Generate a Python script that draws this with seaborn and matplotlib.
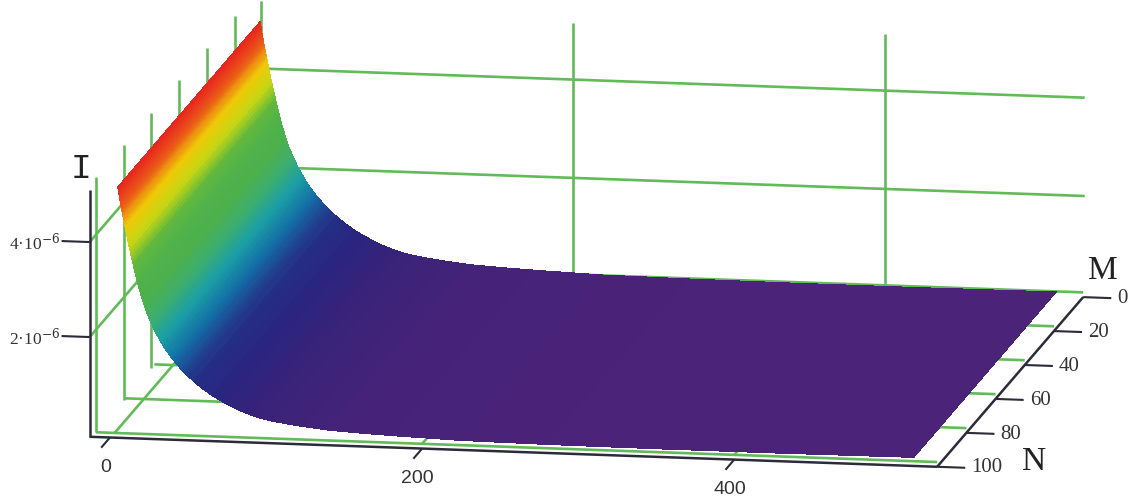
import matplotlib
matplotlib.use('Agg')
import matplotlib.pyplot as plt
import seaborn as sns
import numpy as np
from mpl_toolkits.mplot3d import proj3d

# values (I in units of 1e-6)
n_values = [5, 5.25, 5.5, 5.75, 6, 6.25, 6.5, 6.75, 7, 7.25, 7.5, 7.75, 8, 8.25, 8.5, 8.75,
            9, 9.25, 9.5, 9.75, 10, 10.25, 10.5, 10.75, 11, 11.25, 11.5, 11.75, 12,
            12.5, 13, 13.5, 14, 14.5, 15, 15.5, 16, 16.5, 17, 17.5, 18, 18.5, 19, 19.5, 20,
            20.5, 21, 21.5, 22, 22.5, 23, 23.5, 24, 24.5, 25, 25.5, 26, 26.5, 27, 27.5, 28,
            28.5, 29, 29.5, 30, 30.5, 31, 31.5, 32, 32.5, 33, 33.5, 34, 34.5, 35, 35.5, 36,
            37, 38, 39, 40, 41, 42, 43, 44, 45, 46, 47, 48, 49, 50,
            53, 56, 60, 65, 70, 75, 80, 85, 90, 96, 105, 115, 125,
            139, 160, 181, 224, 280, 350, 430, 515]
i_values = [5.18, 5.13, 5.08, 5.03, 4.98, 4.93, 4.88, 4.83, 4.79, 4.74, 4.70, 4.65, 4.61, 4.57, 4.53, 4.49,
            4.45, 4.41, 4.37, 4.33, 4.29, 4.25, 4.21, 4.17, 4.13, 4.09, 4.05, 4.01, 3.97,
            3.89, 3.82, 3.75, 3.68, 3.61, 3.54, 3.47, 3.40, 3.33, 3.27, 3.20, 3.14, 3.08, 3.02, 2.96, 2.91,
            2.85, 2.80, 2.75, 2.70, 2.65, 2.61, 2.56, 2.52, 2.48, 2.44, 2.40, 2.37, 2.33, 2.30, 2.26, 2.23,
            2.19, 2.16, 2.13, 2.10, 2.07, 2.04, 2.01, 1.99, 1.96, 1.93, 1.90, 1.88, 1.85, 1.83, 1.80, 1.78,
            1.73, 1.69, 1.64, 1.60, 1.56, 1.52, 1.48, 1.45, 1.41, 1.38, 1.34, 1.31, 1.28, 1.25,
            1.16, 1.08, 0.98, 0.87, 0.77, 0.69, 0.61, 0.54, 0.48, 0.42, 0.36, 0.31, 0.27,
            0.22, 0.18, 0.15, 0.10, 0.08, 0.07, 0.07, 0.08]
m_values = [2.5, 100]

n_ticks = [0, 200, 400]
m_ticks = [0, 20, 40, 60, 80, 100]
i_ticks = [2, 4]
i_tick_labels = ['2·10$^{-6}$', '4·10$^{-6}$']
back_levels = [2.03, 4.1]
left_wall_m = [100, 81, 62, 43, 24, 5]

# one colour every 0.4 of I, from 0 to 5.2
surface_colors = ['#4e2379', '#3a2379', '#2a2480', '#252f85', '#136ea6', '#1c9fa5', '#3dae6e',
                  '#4cb04c', '#4fb24a', '#62b83e', '#c8d612', '#f0c808', '#ea5a18', '#e8281e']

N_MIN, N_MAX = -13, 530
M_MIN, M_MAX = 0, 100
I_MIN, I_MAX = -0.1, 5.2
GREEN = '#62ba58'
DARK = '#2b2b3a'

sns.set_theme(style='white')
plt.rcParams['font.family'] = ['Liberation Serif', 'DejaVu Serif']
plt.rcParams['mathtext.fontset'] = 'dejavuserif'

W, H = 1132, 499
fig = plt.figure(figsize=(W / 100, H / 100), dpi=100)
ax = fig.add_axes([-132.5 / W, -461 / H, 1400 / W, 1400 / H], projection='3d')
ax.set_proj_type('ortho')
ax.view_init(elev=11.7, azim=-80.1)
ax.set_box_aspect((860, 849, 257), zoom=0.857)
ax.set_xlim(N_MIN, N_MAX, view_margin=0)
ax.set_ylim(M_MAX, M_MIN, view_margin=0)
ax.set_zlim(I_MIN, I_MAX, view_margin=0)
ax.set_axis_off()
ax.computed_zorder = False
ax.patch.set_alpha(0)


def grid(xs, ys, zs, color=GREEN, lw=1.9, zorder=1):
    ax.plot(xs, ys, zs, color=color, lw=lw, zorder=zorder, solid_capstyle='butt')


def label(x, y, z, s, **kw):
    x2, y2, _ = proj3d.proj_transform(x, y, z, ax.get_proj())
    ax.text2D(x2, y2, s, transform=ax.transData, va='center', color='#333333', **kw)


# back wall and floor grid
for n in n_ticks[1:]:
    grid([n + 3, n + 3], [M_MIN, M_MIN], [0, I_MAX + 0.1])
    grid([n, n], [M_MIN, M_MAX], [0, 0])
for z in back_levels:
    grid([0, N_MAX + 1], [M_MIN, M_MIN], [z, z])
for z in i_ticks:
    grid([N_MIN, N_MIN], [M_MAX, M_MIN], [z, z])

# left wall and floor grid
for m in left_wall_m:
    grid([N_MIN + 4, N_MIN + 4], [m, m], [0, I_MAX + 0.17])
grid([N_MIN + 4, N_MIN + 4], [-13, -13], [3, I_MAX - 0.15])
for m in m_ticks:
    grid([N_MIN + 4, N_MAX], [m, m], [0, 0])
grid([3, 3], [M_MIN, M_MAX], [0, 0])

# surface
nn, mm = np.meshgrid(n_values, m_values)
ii = np.tile(i_values, (len(m_values), 1))
cmap = sns.blend_palette(surface_colors, as_cmap=True)
ax.plot_surface(nn, mm, ii, facecolors=cmap(ii / 5.2), rstride=1, cstride=1, shade=False,
                linewidth=0, antialiased=False, zorder=2)

# axes
grid([N_MIN, N_MAX], [M_MAX, M_MAX], [I_MIN, I_MIN], color=DARK, lw=1.8, zorder=3)
grid([N_MAX, N_MAX], [M_MAX, M_MIN], [I_MIN, I_MIN], color=DARK, lw=1.8, zorder=3)
grid([N_MIN, N_MIN], [M_MAX, M_MAX], [I_MIN, I_MAX - 0.1], color=DARK, lw=1.8, zorder=3)

for n in n_ticks:
    grid([n, n], [M_MAX, M_MAX + 6], [I_MIN, I_MIN], color=DARK, lw=1.5, zorder=3)
    label(n + 13, M_MAX + 17, I_MIN, str(n), ha='center', fontsize=14,
          family=['Liberation Sans'])
for m in m_ticks:
    grid([N_MAX, N_MAX + 18], [m, m], [I_MIN, I_MAX * 0 + I_MIN], color=DARK, lw=1.5, zorder=3)
    label(N_MAX + 22, m, I_MIN, str(m), ha='left', fontsize=15)
for z, tick_label in zip(i_ticks, i_tick_labels):
    grid([N_MIN, N_MIN - 18], [M_MAX, M_MAX], [z, z], color=DARK, lw=1.5, zorder=3)
    label(N_MIN - 19, M_MAX, z - 0.03, tick_label, ha='right', fontsize=12.5)

fig.text(81 / W, 1 - 168 / H, 'I', ha='center', va='center', fontsize=25, color='#222222',
         family=['Liberation Mono'])
fig.text(1103 / W, 1 - 271 / H, 'M', ha='center', va='center', fontsize=24, color='#222222')
fig.text(1034 / W, 1 - 462 / H, 'N', ha='center', va='center', fontsize=24, color='#222222')

fig.savefig('out.png', dpi=100, facecolor='white')
plt.close(fig)
